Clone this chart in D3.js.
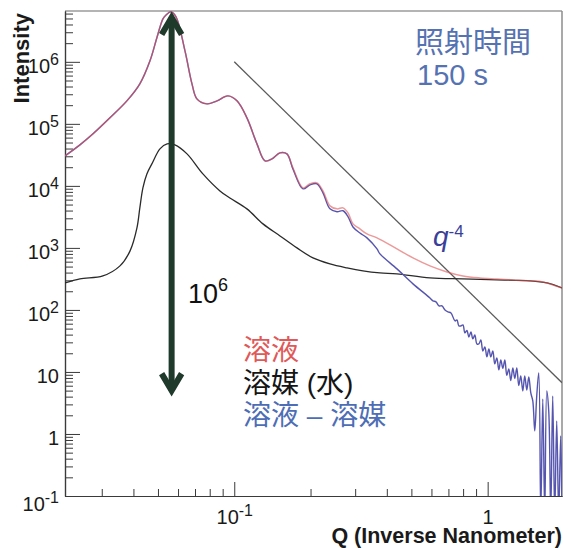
<!DOCTYPE html>
<html><head><meta charset="utf-8">
<script src="https://cdn.jsdelivr.net/npm/d3@7"></script>
<style>
html,body{margin:0;padding:0;background:#fff;}
svg{display:block;}
</style></head><body>
<svg id="chart" width="571" height="548"></svg>
<script>
// ---------- data ----------
const solventQ = [0.0215,0.0246,0.0303,0.0354,0.0388,0.0413,0.0424,0.0436,0.0452,0.0473,0.0509,0.0543,0.0583,0.0651,0.0752,0.0878,0.0961,0.1122,0.1298,0.1515,0.1768,0.2045,0.2386,0.2785,0.3220,0.3758,0.4386,0.5920,0.7990,1.088,1.469,1.714,1.965];
const solventI = [272,316,353,513,895,2100,4420,9290,15600,22600,39500,47600,45800,32800,15600,8300,6390,4260,2440,1560,1000,690,552,476,426,395,381,328,316,305,294,272,226];

const solutionQ = [0.0215,0.0246,0.0277,0.0323,0.0377,0.0424,0.0465,0.0495,0.0523,0.0538,0.0563,0.0589,0.0639,0.0681,0.0712,0.0780,0.0855,0.0944,0.1025,0.1122,0.1229,0.1322,0.1409,0.1515,0.1614,0.1704,0.1867,0.1990,0.2121,0.2239,0.2386,0.2543,0.2685,0.2810,0.2941,0.3133,0.3340,0.3658,0.4386,0.5073,0.5920,0.6909,0.7990,0.9325,1.088,1.259,1.469,1.653,1.810,1.965];
const solutionI = [30500,45800,69000,125000,235000,442000,1040000,2440000,4940000,5700000,6400000,5320000,1500000,442000,253000,210000,235000,283000,235000,125000,47600,25300,27200,34100,32800,19500,9290,10800,11200,8300,4760,4260,4420,3670,2440,2020,1680,1450,963,690,513,410,353,328,316,305,294,283,253,226];

const diffQ = [0.0215,0.0246,0.0277,0.0323,0.0377,0.0424,0.0465,0.0495,0.0523,0.0538,0.0563,0.0589,0.0639,0.0681,0.0712,0.0780,0.0855,0.0944,0.1025,0.1122,0.1229,0.1322,0.1409,0.1515,0.1614,0.1704,0.1867,0.1990,0.2121,0.2239,0.2386,0.2543,0.2685,0.2810,0.2941,0.3133,0.3340,0.3658,0.3758,0.4386,0.5073,
  0.592,0.6083,0.6252,0.6425,0.6602,0.6785,0.6973,0.7166,
  0.743,0.7565,0.770,0.784,0.799,0.813,0.828,0.843,0.859,0.874,0.890,0.907,0.923,0.940,0.957,0.975,0.993,1.011,1.029,1.048,1.067,1.087,1.107,1.127,1.148,1.169,1.190,1.212,1.234,1.257,1.280,1.303,1.327,1.351,1.376,1.401,1.427,1.453,
  1.480,1.507,1.534,1.562,1.591,1.620,1.650,1.680,1.711,1.742,1.774,1.806,1.839,1.873,1.907,1.942,1.964];
const diffI = [30500,45800,69000,125000,235000,442000,1040000,2440000,4940000,5700000,6400000,5320000,1500000,442000,253000,210000,235000,283000,235000,125000,47600,25300,27200,34100,32800,18800,8950,10400,10800,7700,4260,3830,3970,3200,2170,1740,1450,963,800,459,263,
  156,140,135,116,116,100,92.9,89.5,
  66.5,69.0,55.2,55.2,57.3,42.6,46.7,36.7,44.2,34.1,39.5,28.3,28.3,32.8,21.8,25.3,17.5,23.5,17.5,21.8,13.5,16.8,10.8,15.6,11.4,15.6,8.79,11.2,7.29,11.6,7.86,11.6,6.06,8.62,4.94,8.62,5.13,8.30,
  4.59,3.41,1.12,4.10,9.63,0.05,3.67,0.05,4.94,2.35,0.05,4.10,0.05,1.62,0.05,0.93,0.05];

const guideQ = [0.1, 1.965];
const guideI = [1.0e6, 6.7];
const arrowQ = 0.0566;
const arrowI = [6.5e6, 4.0];

const yTickValues = [0.1,1,10,100,1e3,1e4,1e5,1e6];
const xTickValues = [0.1,1];
const legendLabels = ["溶液","溶媒 (水)","溶液 – 溶媒"];
const legendColors = ["#e05858","#151515","#4d6db5"];

// ---------- layout ----------
const W=571,H=548;
const L=65,R=562,T=11,B=496;
const svg = d3.select("#chart");
svg.append("rect").attr("width",W).attr("height",H).attr("fill","#fff");

const x = d3.scaleLog().domain([0.02148,1.965]).range([L,R]);
const y = d3.scaleLog().domain([0.1,6.6e6]).range([B,T]);

svg.append("defs").append("clipPath").attr("id","clip")
  .append("rect").attr("x",L).attr("y",T).attr("width",R-L).attr("height",B-T);

function minorTicks(dom){
  const out=[];
  const e0=Math.floor(Math.log10(dom[0])), e1=Math.ceil(Math.log10(dom[1]));
  for(let e=e0;e<=e1;e++) for(let k=2;k<=9;k++){
    const v=+(k*Math.pow(10,e)).toPrecision(6);
    if(v>=dom[0]&&v<=dom[1]) out.push(v);
  }
  return out;
}

// frame (top / right)
svg.append("line").attr("x1",L).attr("x2",R).attr("y1",T).attr("y2",T)
  .attr("stroke","#b4b4b4").attr("stroke-width",2);
svg.append("line").attr("x1",R).attr("x2",R).attr("y1",T).attr("y2",B)
  .attr("stroke","#8c8c8c").attr("stroke-width",1.5);

const FONT = "'Liberation Sans', Arial, Helvetica, sans-serif";

function supLabel(sel){
  sel.each(function(d){
    const t=d3.select(this);
    t.text("");
    const e=Math.round(Math.log10(d));
    if(e===0){ t.text("1"); return; }
    if(e===1){ t.text("10"); return; }
    t.append("tspan").text("10");
    t.append("tspan").attr("font-size",16).attr("dy",-8).text(String(e));
  });
}

// y axis
const gyMinor = svg.append("g").attr("transform",`translate(${L},0)`)
  .call(d3.axisLeft(y).tickValues(minorTicks(y.domain())).tickSize(-8).tickSizeOuter(0).tickFormat(""));
const gy = svg.append("g").attr("transform",`translate(${L},0)`)
  .call(d3.axisLeft(y).tickValues(yTickValues).tickSize(-15).tickSizeOuter(0).tickPadding(6).tickFormat(d=>d));
gy.selectAll(".tick text").attr("font-family",FONT).attr("font-size",20).attr("fill","#1a1a1a")
  .attr("dy",d=>d===0.1?"0.72em":"0.52em").call(supLabel);

// x axis
const gxMinor = svg.append("g").attr("transform",`translate(0,${B})`)
  .call(d3.axisBottom(x).tickValues(minorTicks(x.domain())).tickSize(-7).tickSizeOuter(0).tickFormat(""));
const gx = svg.append("g").attr("transform",`translate(0,${B})`)
  .call(d3.axisBottom(x).tickValues(xTickValues).tickSize(-14).tickSizeOuter(0).tickPadding(14).tickFormat(d=>d));
gx.selectAll(".tick text").attr("font-family",FONT).attr("font-size",20).attr("fill","#1a1a1a").call(supLabel);

[gyMinor,gy,gxMinor,gx].forEach(g=>{
  g.selectAll(".domain").attr("stroke","#3a3a3a").attr("stroke-width",1.2);
  g.selectAll(".tick line").attr("stroke","#3a3a3a").attr("stroke-width",1);
});

// axis titles
svg.append("text").attr("x",R).attr("y",543).attr("text-anchor","end")
  .attr("font-family",FONT).attr("font-weight","bold").attr("font-size",21.5).attr("fill","#1a1a1a")
  .text("Q (Inverse Nanometer)");
svg.append("text").attr("transform","translate(29,13) rotate(-90)").attr("text-anchor","end")
  .attr("font-family",FONT).attr("font-weight","bold").attr("font-size",22).attr("fill","#1a1a1a")
  .text("Intensity");

// curves
const plot = svg.append("g").attr("clip-path","url(#clip)");
const smooth = d3.line().x(d=>x(d[0])).y(d=>y(d[1])).curve(d3.curveCatmullRom.alpha(0.5));

plot.append("path").datum(d3.zip(guideQ,guideI)).attr("d",d3.line().x(d=>x(d[0])).y(d=>y(d[1])))
  .attr("fill","none").attr("stroke","#5a5a5a").attr("stroke-width",1.3);
plot.append("path").datum(d3.zip(solventQ,solventI)).attr("d",smooth)
  .attr("fill","none").attr("stroke","#2a2a2a").attr("stroke-width",1.3);
plot.append("path").datum(d3.zip(diffQ,diffI)).attr("d",smooth)
  .attr("fill","none").attr("stroke","#5555b0").attr("stroke-width",1.4).attr("stroke-linejoin","round");
plot.append("path").datum(d3.zip(solutionQ,solutionI)).attr("d",smooth)
  .attr("fill","none").attr("stroke","#e05555").attr("stroke-width",1.5).attr("stroke-opacity",0.6);

// arrow (10^6 span)
const ax = x(arrowQ), ayTop = y(arrowI[0]), ayBot = y(arrowI[1]);
const AC = "#1f3a2a";
svg.append("line").attr("x1",ax).attr("x2",ax).attr("y1",ayTop+6).attr("y2",ayBot-6)
  .attr("stroke",AC).attr("stroke-width",6);
svg.append("polyline").attr("points",`${ax-10},${ayTop+23} ${ax},${ayTop+6} ${ax+10},${ayTop+23}`)
  .attr("fill","none").attr("stroke",AC).attr("stroke-width",6).attr("stroke-linejoin","miter");
svg.append("polyline").attr("points",`${ax-10},${ayBot-23} ${ax},${ayBot-6} ${ax+10},${ayBot-23}`)
  .attr("fill","none").attr("stroke",AC).attr("stroke-width",6).attr("stroke-linejoin","miter");

// annotations
const t6 = svg.append("text").attr("x",188).attr("y",303).attr("font-family",FONT).attr("font-size",27).attr("fill","#111");
t6.append("tspan").text("10");
t6.append("tspan").attr("font-size",18).attr("dy",-12).text("6");

const tq = svg.append("text").attr("x",433).attr("y",246).attr("font-family",FONT).attr("fill","#3a3f9a");
tq.append("tspan").attr("font-size",28).attr("font-style","italic").text("q");
tq.append("tspan").attr("font-size",17).attr("dy",-9).text("-4");

const CJK = "'Liberation Sans', 'Noto Sans CJK JP', sans-serif";
svg.append("text").attr("x",415).attr("y",53).attr("font-family",CJK).attr("font-size",29).attr("fill","#5572b2").text("照射時間");
svg.append("text").attr("x",417).attr("y",85).attr("font-family",CJK).attr("font-size",29).attr("fill","#5572b2").text("150 s");

svg.selectAll(".legend").data(legendLabels).enter().append("text").attr("class","legend")
  .attr("x",243).attr("y",(d,i)=>360+i*32.5)
  .attr("font-family",CJK).attr("font-size",28)
  .attr("fill",(d,i)=>legendColors[i]).text(d=>d);
</script>
</body></html>
